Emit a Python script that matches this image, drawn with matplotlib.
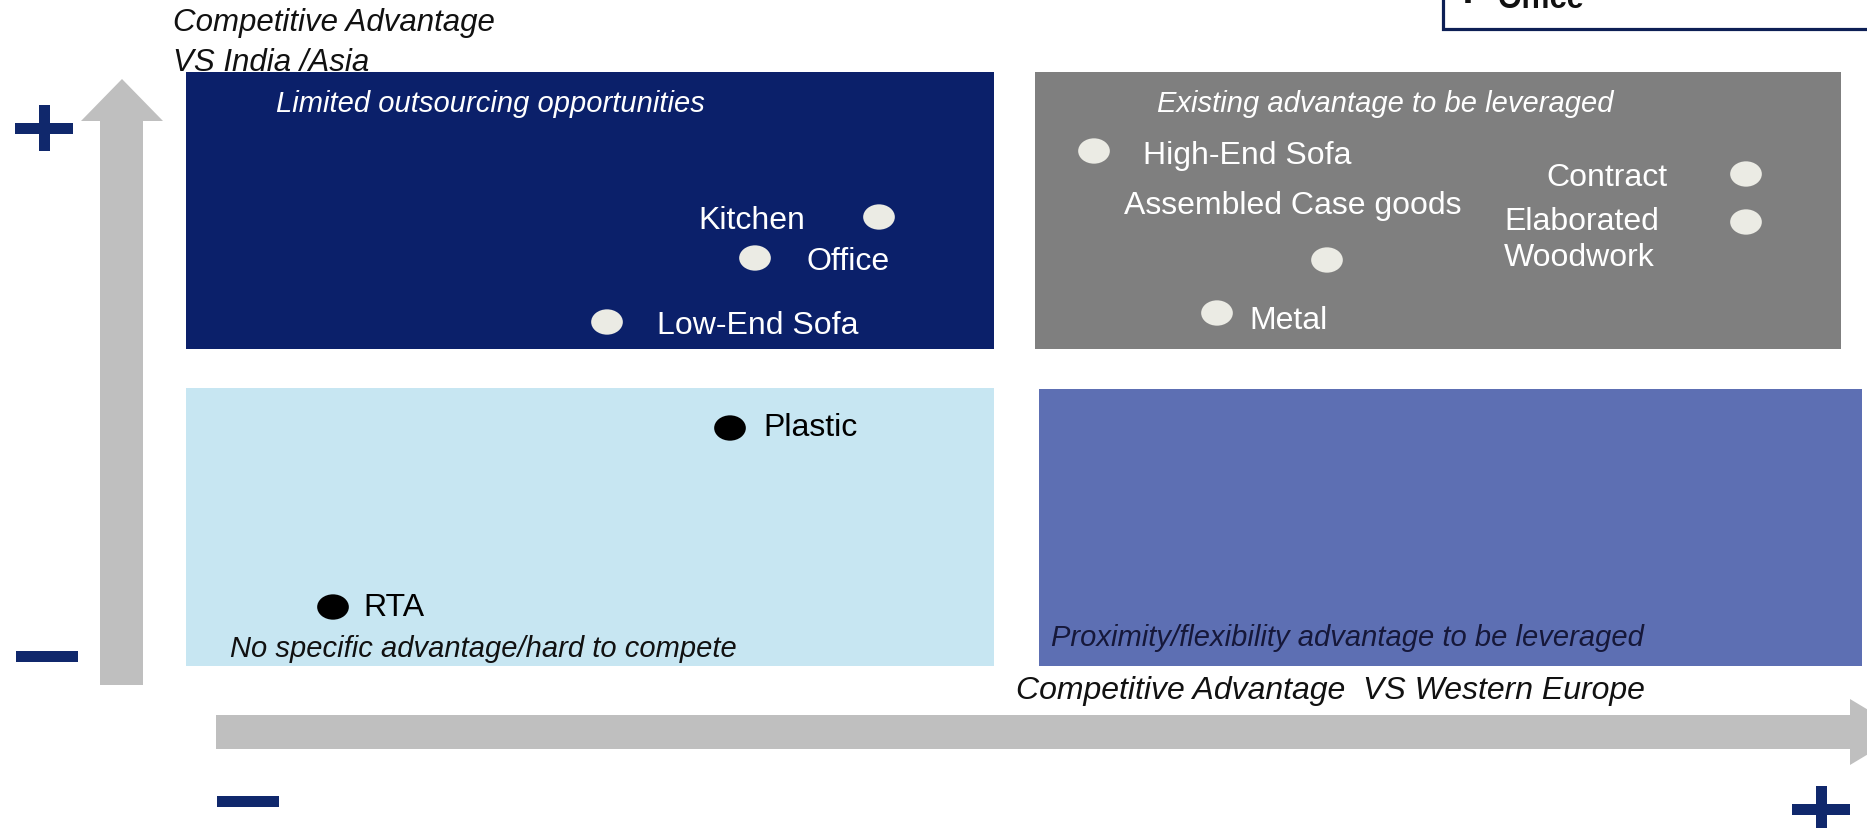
import numpy as np
import matplotlib
matplotlib.use("Agg")
import matplotlib.pyplot as plt
from matplotlib.patches import Rectangle, Polygon
from matplotlib.path import Path

plt.rcParams['font.family'] = ['Liberation Sans', 'DejaVu Sans']

# ---- data -----------------------------------------------------------------
# Furniture segments placed on the matrix (chart units, y grows downwards)
segments = ["Kitchen", "Office", "Low-End Sofa", "Plastic", "RTA",
            "High-End Sofa", "Assembled Case goods", "Contract",
            "Elaborated\nWoodwork", "Metal"]
seg_x = [879, 755, 607, 730, 333, 1094, 1327, 1746, 1746, 1217]
seg_y = [218, 259, 323, 429, 608, 152, 261, 175, 223, 314]
seg_kind = ["pale", "pale", "pale", "black", "black",
            "pale", "pale", "pale", "pale", "pale"]

quadrant_titles = ["Limited outsourcing opportunities",
                   "Existing advantage to be leveraged",
                   "No specific advantage/hard to compete",
                   "Proximity/flexibility advantage to be leveraged"]
y_axis_title = "Competitive Advantage\nVS India /Asia"
x_axis_title = "Competitive Advantage  VS Western Europe"
legend_item = "Office"

# ---- layout ---------------------------------------------------------------
W, H = 1867, 829
fig = plt.figure(figsize=(W / 100, H / 100), dpi=100)
ax = fig.add_axes([0, 0, 1, 1])
ax.set_xlim(0, W)
ax.set_ylim(H, 0)
ax.axis("off")

NAVY = "#10286c"
ARROW = "#bfbfbf"

# quadrant panels: (x0, y0, x1, y1, colour)
panels = [(186, 73, 994, 350, "#0b206a"),
          (1035, 73, 1841, 350, "#7f7f7f"),
          (186, 389, 994, 667, "#c7e6f2"),
          (1039, 390, 1862, 667, "#5d6fb3")]
for x0, y0, x1, y1, c in panels:
    ax.add_patch(Rectangle((x0, y0), x1 - x0, y1 - y0, facecolor=c,
                           edgecolor="none", zorder=1))

# axis arrows
ax.add_patch(Polygon([(100, 686), (100, 122), (81, 122), (122, 80),
                      (163, 122), (143, 122), (143, 686)],
                     closed=True, facecolor=ARROW, edgecolor="none", zorder=1))
ax.add_patch(Polygon([(216, 716), (1850, 716), (1850, 700), (1905, 733),
                      (1850, 766), (1850, 750), (216, 750)],
                     closed=True, facecolor=ARROW, edgecolor="none", zorder=1))

# plus / minus signs at the arrow ends
def plus(cx, cy, w=58, h=46, t=11):
    ax.add_patch(Rectangle((cx - w / 2, cy - t / 2), w, t, facecolor=NAVY,
                           edgecolor="none", zorder=2))
    ax.add_patch(Rectangle((cx - t / 2, cy - h / 2), t, h, facecolor=NAVY,
                           edgecolor="none", zorder=2))

def minus(cx, cy, w=62, t=11):
    ax.add_patch(Rectangle((cx - w / 2, cy - t / 2), w, t, facecolor=NAVY,
                           edgecolor="none", zorder=2))

plus(44, 129)
minus(47, 657)
minus(248, 802)
plus(1821, 810)

# axis titles
ax.text(173, 43, y_axis_title, fontsize=22.5, style="italic", color="#111111",
        ha="left", va="center", linespacing=1.41, zorder=3)
ax.text(1016, 691, x_axis_title, fontsize=23, style="italic",
        color="#111111", ha="left", va="center", zorder=3)

# quadrant titles
title_pos = [(276, 104, "white"), (1157, 104, "white"),
             (230, 649, "#111111"), (1051, 638, "#16183a")]
for t, (tx, ty, tc) in zip(quadrant_titles, title_pos):
    ax.text(tx, ty, t, fontsize=21, style="italic", color=tc,
            ha="left", va="center", zorder=3)

# segment markers: slightly flattened discs
circ = Path.unit_circle()
disc = Path(circ.vertices * np.array([1.0, 0.8]), circ.codes)
kind_style = {"pale": "#ebebe4", "black": "#000000"}
for kind, col in kind_style.items():
    xs = [x for x, k in zip(seg_x, seg_kind) if k == kind]
    ys = [y for y, k in zip(seg_y, seg_kind) if k == kind]
    ax.scatter(xs, ys, s=520, marker=disc, color=col, edgecolors="none",
               zorder=4)

# label placement relative to each marker (dx, dy, alignment)
label_offsets = [(-74, 3, "right"), (51, 3, "left"), (50, 3, "left"),
                 (33, -1, "left"), (30, 0, "left"), (49, 4, "left"),
                 (-203, -55, "left"), (-78, 3, "right"),
                 (-242, 17, "left"), (32, 7, "left")]
for name, x, y, kind, (dx, dy, ha) in zip(segments, seg_x, seg_y, seg_kind,
                                          label_offsets):
    ax.text(x + dx, y + dy, name, fontsize=23, ha=ha, va="center",
            color="white" if kind == "pale" else "black",
            linespacing=1.24, zorder=5)

# partial legend box at the top right
ax.add_patch(Rectangle((1443, -20), 500, 50, facecolor="white",
                       edgecolor="#0d1f55", linewidth=2.3, zorder=3))
ax.text(1468, 1, "\u25aa", fontsize=16, fontweight="bold", color="#111111",
        ha="center", va="center", zorder=4)
ax.text(1498, 0, legend_item, fontsize=22, fontweight="bold",
        color="#111111", ha="left", va="center", zorder=4)

fig.savefig("out.png", dpi=100, facecolor="white")
